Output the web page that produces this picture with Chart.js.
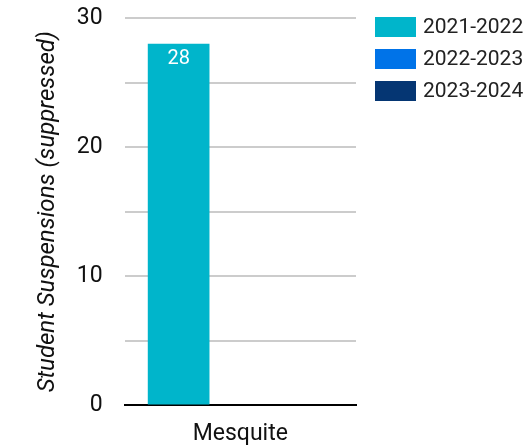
<!DOCTYPE html>
<html>
<head>
<meta charset="utf-8">
<script src="https://cdn.jsdelivr.net/npm/chart.js@4/dist/chart.umd.min.js"></script>
<style>
  html, body { margin: 0; padding: 0; background: #fff; }
  #wrap { width: 528px; height: 448px; }
</style>
</head>
<body>
<div id="wrap"><canvas id="chart" width="528" height="448"></canvas></div>
<script>
var categories = ['Mesquite'];
var seriesNames = ['2021-2022', '2022-2023', '2023-2024'];
var values2122 = [28];
var values2223 = [null];
var values2324 = [null];
var yTicks = [0, 10, 20, 30];

var colors = ['#00b5cb', '#0073e8', '#053673'];

Chart.defaults.font.family = 'Roboto';
Chart.defaults.color = '#222';

// value labels drawn inside the top of each bar
var barLabels = {
  id: 'barLabels',
  afterDatasetsDraw: function(chart) {
    var ctx = chart.ctx;
    ctx.save();
    ctx.fillStyle = '#fff';
    ctx.font = '20px Roboto';
    ctx.textAlign = 'center';
    ctx.textBaseline = 'middle';
    chart.data.datasets.forEach(function(ds, i) {
      chart.getDatasetMeta(i).data.forEach(function(bar, j) {
        var v = ds.data[j];
        if (v == null) return;
        ctx.fillText(String(v), bar.x, bar.y + 15);
      });
    });
    ctx.restore();
  }
};

// legend on the right, drawn by hand so it sits where the original does
var sideLegend = {
  id: 'sideLegend',
  afterDraw: function(chart) {
    var ctx = chart.ctx;
    var x0 = chart.chartArea.right + 19;
    var y0 = 17;
    ctx.save();
    ctx.font = '21px Roboto';
    ctx.textBaseline = 'middle';
    ctx.textAlign = 'left';
    chart.data.datasets.forEach(function(ds, i) {
      var y = y0 + i * 32;
      ctx.fillStyle = ds.backgroundColor;
      ctx.fillRect(x0, y, 41, 20);
      ctx.fillStyle = '#222';
      ctx.fillText(ds.label, x0 + 48, y + 11);
    });
    ctx.restore();
  }
};

var seriesData = [values2122, values2223, values2324];

new Chart(document.getElementById('chart'), {
  type: 'bar',
  data: {
    labels: categories,
    datasets: seriesNames.map(function(name, i) {
      return {
        label: name,
        data: seriesData[i],
        backgroundColor: colors[i],
        borderWidth: 0,
        categoryPercentage: 0.8,
        barPercentage: 1.0
      };
    })
  },
  options: {
    responsive: false,
    animation: false,
    layout: { padding: { top: 18, left: 34, bottom: -15, right: 172 } },
    plugins: {
      tooltip: { enabled: false },
      legend: { display: false }
    },
    scales: {
      x: {
        grid: { display: false, drawTicks: false },
        border: { display: true, color: '#000', width: 2 },
        ticks: { font: { size: 23 }, color: '#111', padding: 15 }
      },
      y: {
        min: 0,
        max: 30,
        afterFit: function(scale) {
          scale.paddingTop = 0;
          scale.paddingBottom = 0;
        },
        ticks: {
          stepSize: 5,
          font: { size: 23 },
          color: '#111',
          padding: 22,
          callback: function(v) { return yTicks.indexOf(v) >= 0 ? v : ''; }
        },
        grid: { color: '#cccccc', lineWidth: 2, drawTicks: false },
        border: { display: false },
        title: {
          display: true,
          text: 'Student Suspensions (suppressed)',
          font: { size: 24, style: 'italic' },
          color: '#111',
          padding: { top: 0, bottom: -8 }
        }
      }
    }
  },
  plugins: [barLabels, sideLegend]
});
</script>
</body>
</html>
